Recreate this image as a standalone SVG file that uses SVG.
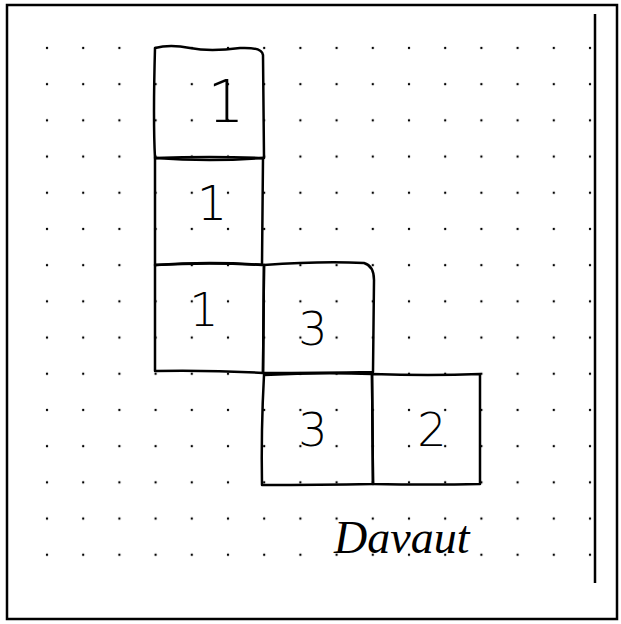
<svg xmlns="http://www.w3.org/2000/svg" width="621" height="624" viewBox="0 0 621 624">
<style>
.box{fill:none;stroke:#000;stroke-width:2.5;stroke-linejoin:round;stroke-linecap:round}
.num{font-family:"DejaVu Sans","Liberation Sans",sans-serif;font-weight:200;fill:#000;text-anchor:middle}
.one{font-size:58px}
.big{font-size:46px}
.mid{font-size:48px}
.hand{font-family:"Liberation Serif",serif;font-style:italic;font-size:46px;fill:#000}
</style>
<defs>
<pattern id="dots" x="0" y="0" width="36.2" height="36.2" patternUnits="userSpaceOnUse">
<circle cx="10.8" cy="11.8" r="1.2" fill="#000"/>
</pattern>
</defs>
<rect width="621" height="624" fill="#fff"/>
<rect x="7" y="5" width="610" height="614" fill="none" stroke="#000" stroke-width="2.5"/>
<line x1="595" y1="14" x2="595" y2="583" stroke="#000" stroke-width="2.5"/>
<rect x="36" y="36" width="565" height="535" fill="url(#dots)"/>
<g id="connectors"></g>
<g id="n1"><path class="box" d="M155 48 Q170 44 190 48 T240 48 Q262 47 263 55 L264 158 Q210 156 155 158 Q153 120 155 48 Z"/><text class="num one" x="226" y="122">1</text></g>
<g id="n2"><path class="box" d="M155 158 Q210 162 263 158 L262 265 Q210 262 155 265 Z"/><text class="num mid" x="212" y="220">1</text></g>
<g id="n3"><path class="box" d="M155 265 Q210 261 264 265 L263 373 Q210 370 155 371 Z"/><text class="num big" x="204" y="326">1</text></g>
<g id="n4"><path class="box" d="M264 265 Q320 261 364 263 Q374 266 374 280 L373 372 Q320 373 263 373 Z"/><text class="num big" x="313" y="345">3</text></g>
<g id="n5"><path class="box" d="M264 375 Q320 372 372 374 L373 484 Q320 485 262 485 Q261 430 264 375 Z"/><text class="num big" x="313" y="446">3</text></g>
<g id="n6"><path class="box" d="M372 374 Q430 376 480 374 L480 484 Q430 485 373 484 Z"/><text class="num big" x="432" y="446">2</text></g>
<text class="hand" x="334" y="553">Davaut</text>
</svg>
